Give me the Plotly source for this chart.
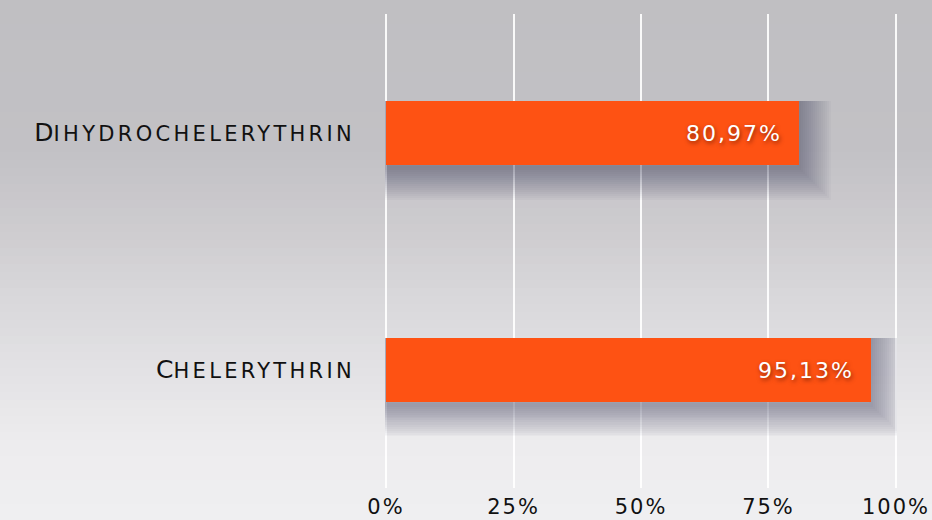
import plotly.graph_objects as go

categories = ["Dihydrochelerythrin", "Chelerythrin"]
values = [80.97, 95.13]
tick_vals = [0, 25, 50, 75, 100]
tick_text = ["0%", "25%", "50%", "75%", "100%"]

W, H = 932, 520
L, R, T, B = 385, 35, 14, 32
plot_h = H - T - B
px_per_cat = plot_h / len(categories)

bar_color = "#FE5213"
spaced = "<span style='letter-spacing:2px'>{}</span>"
labels = [spaced.format(f"{v:.2f}".replace(".", ",") + "%") + "  " for v in values]
cat_text = [c[0].upper() + "<span style='font-size:21px;letter-spacing:3.3px'>"
            + c[1:].upper() + "</span>" for c in categories]
x_text = [spaced.format(t) for t in tick_text]

fig = go.Figure()

# soft drop shadow: stacked translucent strokes hidden above by the bar
bar_w = 0.27
for lw in range(4, 68, 4):
    half = (lw / 2) / px_per_cat
    drop = 3 / px_per_cat
    fig.add_trace(go.Bar(
        y=categories, x=values, orientation="h",
        width=bar_w - half + drop, offset=-bar_w / 2 + half,
        marker=dict(color="rgba(0,0,0,0)",
                    line=dict(color="rgba(45,45,60,0.026)", width=lw)),
        hoverinfo="skip", showlegend=False,
    ))

fig.add_trace(go.Bar(
    y=categories, x=values, orientation="h",
    width=bar_w,
    marker=dict(color=bar_color, line=dict(width=0)),
    text=labels, textposition="inside", insidetextanchor="end",
    textfont=dict(color="white", size=22, family="DejaVu Sans",
                  shadow="1px 2px 4px rgba(90,20,0,0.7)"),
    showlegend=False,
))

# vertical gradient background
stops = [(0, (192, 191, 194)), (150, (194, 193, 197)), (230, (206, 204, 207)),
         (300, (217, 216, 219)), (380, (228, 227, 230)), (440, (237, 236, 238)),
         (520, (239, 239, 241))]

def col_at(py):
    for (y0, c0), (y1, c1) in zip(stops[:-1], stops[1:]):
        if y0 <= py <= y1:
            t = (py - y0) / (y1 - y0)
            return tuple(round(c0[i] + (c1[i] - c0[i]) * t) for i in range(3))
    return stops[-1][1]

shapes = []
step = 8
for py in range(0, H, step):
    c = col_at(py + step / 2)
    shapes.append(dict(
        type="rect", xref="paper", yref="paper", layer="below",
        x0=-L / (W - L - R) - 0.01, x1=1 + R / (W - L - R) + 0.01,
        y0=(H - B - py - step - 1) / plot_h, y1=(H - B - py) / plot_h,
        fillcolor=f"rgb({c[0]},{c[1]},{c[2]})", line=dict(width=0),
    ))

fig.update_layout(
    width=W, height=H,
    margin=dict(l=L, r=R, t=T, b=B),
    paper_bgcolor="#efeff1", plot_bgcolor="rgba(0,0,0,0)",
    barmode="overlay", bargap=0,
    shapes=shapes,
    showlegend=False,
    font=dict(family="DejaVu Sans", color="#111111"),
)
fig.update_xaxes(
    range=[-0.2, 100.2], tickvals=tick_vals, ticktext=x_text,
    showgrid=True, gridcolor="rgba(255,255,255,0.9)", gridwidth=2,
    zeroline=False, showline=False, ticks="", automargin=False,
    tickfont=dict(size=21, family="DejaVu Sans", color="#111111"),
    ticklabelstandoff=4, fixedrange=True,
)
fig.update_yaxes(
    categoryorder="array", categoryarray=categories, autorange="reversed",
    tickvals=categories, ticktext=cat_text, automargin=False,
    showgrid=False, zeroline=False, showline=False, ticks="",
    tickfont=dict(size=25, family="DejaVu Sans", color="#111111"),
    ticklabelstandoff=29, fixedrange=True,
)

fig.write_html("out.html", config={"displayModeBar": False},
               post_script="document.body.style.margin='0';document.body.style.overflow='hidden';")
